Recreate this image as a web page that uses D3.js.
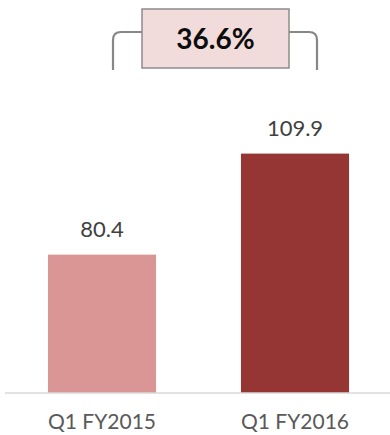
<!DOCTYPE html>
<html lang="en">
<head>
  <meta charset="UTF-8">
  <title>Q1 comparison</title>
  <script src="https://d3js.org/d3.v7.min.js"></script>
  <style>
    body { margin: 0; background: #fff; font-family: Lato, "Open Sans", sans-serif; }
  </style>
</head>
<body>
  <div id="chart"></div>
  <script>
    // data
    const categories = ["Q1 FY2015", "Q1 FY2016"];
    const values = [80.4, 109.9];
    const barColors = ["#d99694", "#963634"];
    const growthLabel = "36.6%";

    const W = 390, H = 435;
    const svg = d3.select("#chart").append("svg")
      .attr("width", W).attr("height", H);

    const x = d3.scaleBand()
      .domain(categories)
      .range([5.5, 391.5])
      .paddingInner(0.44)
      .paddingOuter(0.22);

    // axis does not start at zero
    const y = d3.scaleLinear()
      .domain([40, 120])
      .range([393, 119]);

    // bars
    svg.selectAll("rect.bar")
      .data(values)
      .enter().append("rect")
      .attr("class", "bar")
      .attr("x", (d, i) => x(categories[i]))
      .attr("y", d => y(d))
      .attr("width", x.bandwidth())
      .attr("height", d => y.range()[0] - y(d))
      .attr("fill", (d, i) => barColors[i]);

    // value labels
    svg.selectAll("text.val")
      .data(values)
      .enter().append("text")
      .attr("class", "val")
      .attr("x", (d, i) => x(categories[i]) + x.bandwidth() / 2)
      .attr("y", d => y(d) - 18)
      .attr("text-anchor", "middle")
      .attr("fill", "#404040")
      .style("font-size", "22px")
      .text(d => d.toFixed(1));

    // baseline + category axis
    const axis = svg.append("g")
      .attr("transform", `translate(0,${y.range()[0]})`)
      .call(d3.axisBottom(x).tickSize(0).tickPadding(21));
    axis.select(".domain").attr("stroke", "#d9d9d9").attr("stroke-width", 1.5)
      .attr("d", `M5,0H390`);
    axis.selectAll("text")
      .attr("fill", "#595959")
      .style("font-size", "21px")
      .style("font-family", "Lato, 'Open Sans', sans-serif");

    // growth bracket
    const xl = x(categories[0]) + x.bandwidth() / 2 + 11;
    const xr = x(categories[1]) + x.bandwidth() / 2 + 22;
    const boxL = 142, boxR = 289, boxT = 9, boxB = 68, by = 32, bEnd = 70;
    const r = 8;
    const bracket = d3.path();
    bracket.moveTo(xl, bEnd);
    bracket.lineTo(xl, by + r);
    bracket.quadraticCurveTo(xl, by, xl + r, by);
    bracket.lineTo(boxL, by);
    bracket.moveTo(boxR, by);
    bracket.lineTo(xr - r, by);
    bracket.quadraticCurveTo(xr, by, xr, by + r);
    bracket.lineTo(xr, bEnd);
    svg.append("path")
      .attr("d", bracket.toString())
      .attr("fill", "none")
      .attr("stroke", "#878787")
      .attr("stroke-width", 2.2);

    svg.append("rect")
      .attr("x", boxL).attr("y", boxT)
      .attr("width", boxR - boxL).attr("height", boxB - boxT)
      .attr("fill", "#f2dcdb")
      .attr("stroke", "#8c8c8c")
      .attr("stroke-width", 1.5);

    svg.append("text")
      .attr("x", (boxL + boxR) / 2)
      .attr("y", 49)
      .attr("text-anchor", "middle")
      .attr("fill", "#0d0d0d")
      .style("font-size", "28px")
      .style("font-weight", "bold")
      .text(growthLabel);
  </script>
</body>
</html>
